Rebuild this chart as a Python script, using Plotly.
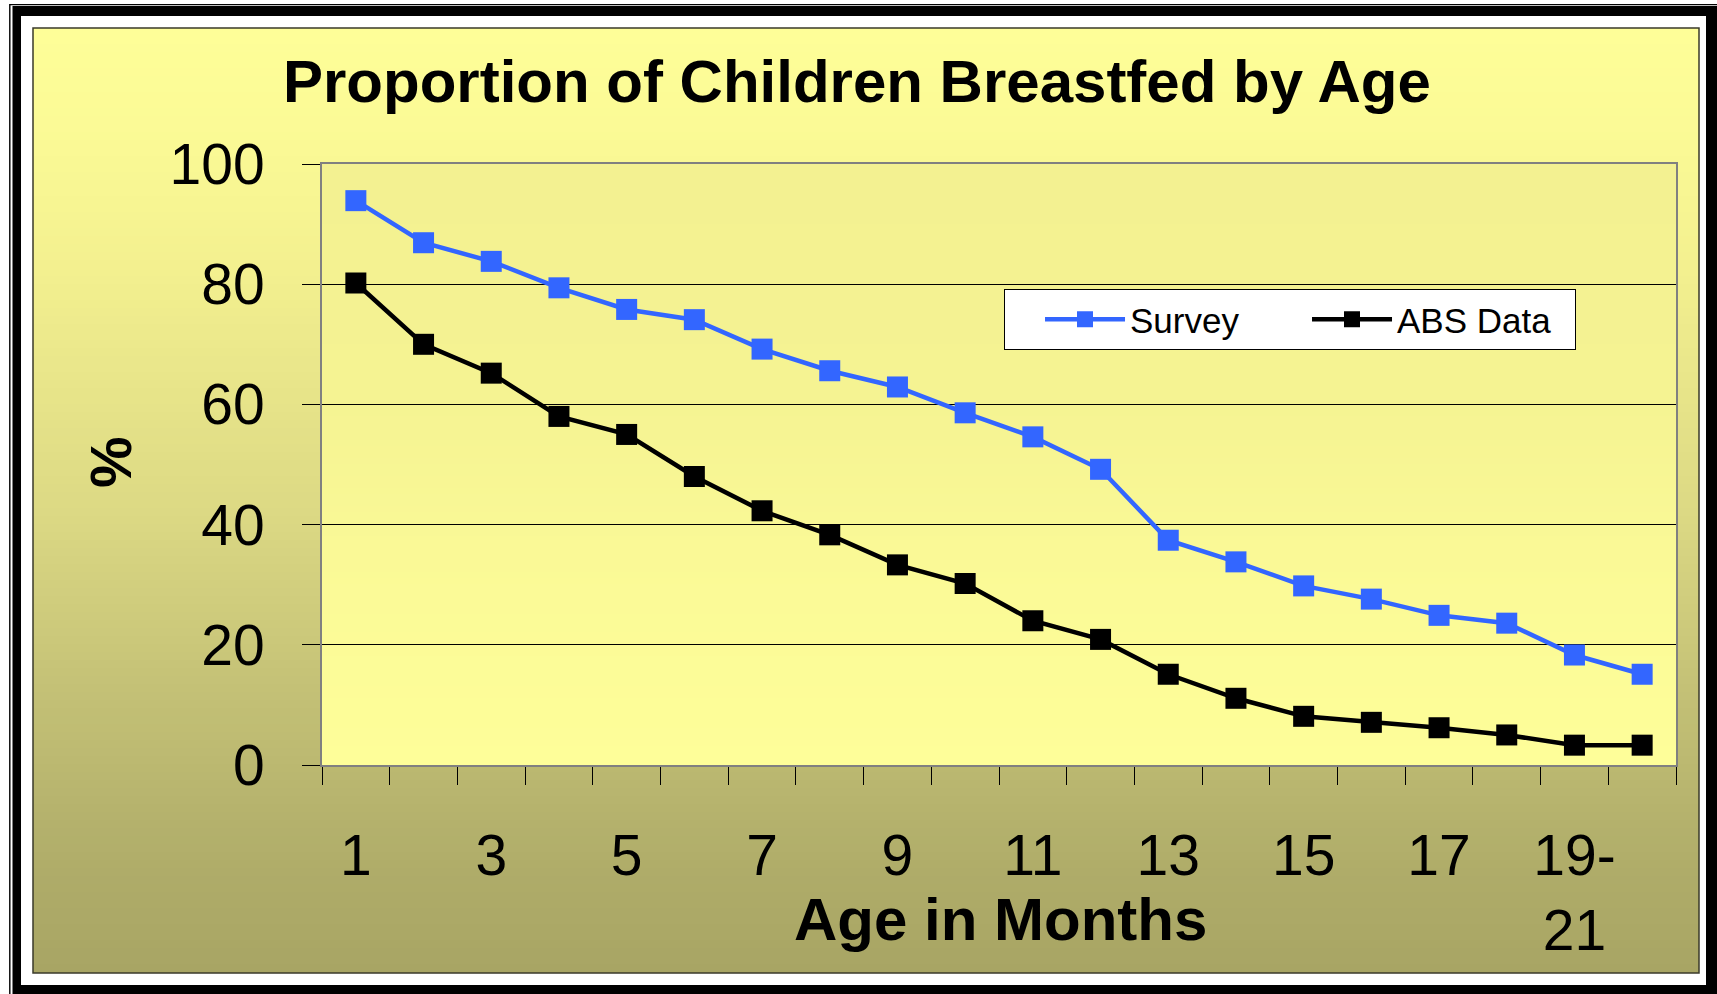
import plotly.graph_objects as go

# ---------------- data ----------------
categories = [str(i) for i in range(1, 19)] + ["19-21", "22-24"]
survey = [93.9, 86.9, 83.8, 79.4, 75.8, 74.1, 69.2, 65.6, 62.9, 58.6,
          54.6, 49.2, 37.4, 33.8, 29.8, 27.6, 24.9, 23.6, 18.3, 15.1]
abs_data = [80.2, 70.0, 65.2, 58.0, 55.0, 48.0, 42.3, 38.3, 33.3, 30.2,
            24.0, 20.9, 15.1, 11.1, 8.1, 7.1, 6.2, 5.0, 3.3, 3.3]
series_names = ["Survey", "ABS Data"]
y_ticks = [0, 20, 40, 60, 80, 100]
title_text = "Proportion of Children Breastfed by Age"
x_title = "Age in Months"
y_title = "%"

# ---------------- geometry ----------------
W, H = 1717, 994
L, R, T, B = 322, 1676, 164, 765
PW, PH = R - L, B - T

def X(px):
    return (px - L) / PW

def Y(py):
    return 1 - (py - T) / PH

FONT = "Arial, Liberation Sans, Helvetica, sans-serif"

xpos = list(range(1, len(categories) + 1))
tick_pos = xpos[::2]
tick_text = [categories[i - 1].replace("-", "-<br>") for i in tick_pos]
boundaries = [i + 0.5 for i in range(0, len(categories) + 1)]

fig = go.Figure()
fig.add_trace(go.Scatter(
    x=xpos, y=survey, name=series_names[0], mode="lines+markers",
    line=dict(color="#3366FF", width=4.5),
    marker=dict(symbol="square", size=21, color="#3366FF"),
))
fig.add_trace(go.Scatter(
    x=xpos, y=abs_data, name=series_names[1], mode="lines+markers",
    line=dict(color="#000000", width=4.5),
    marker=dict(symbol="square", size=21, color="#000000"),
))

shapes = []

def rect(x0, y0, x1, y1, fill=None, line_color=None, lw=0):
    d = dict(type="rect", xref="paper", yref="paper", layer="below",
             x0=X(x0), x1=X(x1), y0=Y(y1), y1=Y(y0))
    d["fillcolor"] = fill if fill else "rgba(0,0,0,0)"
    d["line"] = dict(color=line_color if line_color else "rgba(0,0,0,0)", width=lw)
    return d

# outer frame
shapes.append(rect(12.5, 6, 1740, 1020, fill="#000000"))
shapes.append(rect(21, 16, 1706, 985, fill="#FFFFFF"))
shapes.append(rect(9.8, 4.6, 1740, 1020, line_color="#000000", lw=1.4))

def interp(stops, y):
    for (ya, ca), (yb, cb) in zip(stops[:-1], stops[1:]):
        if ya <= y <= yb:
            t = (y - ya) / (yb - ya)
            return tuple(round(a + (b - a) * t) for a, b in zip(ca, cb))
    return stops[-1][1] if y > stops[-1][0] else stops[0][1]

def gradient(x0, y0, x1, y1, stops, step=8):
    y = y0
    while y < y1:
        ye = min(y + step, y1)
        c = interp(stops, (y + ye) / 2)
        shapes.append(rect(x0, y, x1, min(ye + 1, y1), fill="rgb(%d,%d,%d)" % c))
        y = ye

panel_stops = [(28, (254, 254, 152)), (150, (250, 249, 149)), (270, (243, 240, 143)),
               (510, (220, 217, 132)), (690, (196, 193, 118)), (870, (175, 172, 105)),
               (973, (168, 165, 100))]
gradient(33, 28, 1699, 973, panel_stops)
shapes.append(rect(33, 28, 1699, 973, line_color="#3a3a2a", lw=1.5))

plot_stops = [(164, (243, 241, 145)), (400, (245, 243, 146)), (550, (250, 249, 150)),
              (765, (254, 254, 153))]
gradient(L, T, R, B, plot_stops, step=6)

annotations = [
    dict(text="<b>%s</b>" % title_text, xref="paper", yref="paper",
         x=X(857), y=Y(81.5), xanchor="center", yanchor="middle", showarrow=False,
         font=dict(family=FONT, size=60, color="#000000")),
    dict(text="<b>%s</b>" % x_title, xref="paper", yref="paper",
         x=X(1000), y=Y(919), xanchor="center", yanchor="middle", showarrow=False,
         font=dict(family=FONT, size=60, color="#000000")),
    dict(text="<b>%s</b>" % y_title, xref="paper", yref="paper", textangle=-90,
         x=X(110), y=Y(462), xanchor="center", yanchor="middle", showarrow=False,
         font=dict(family=FONT, size=58, color="#000000")),
]

fig.update_layout(
    width=W, height=H,
    margin=dict(l=L, r=W - R, t=T, b=H - B, pad=0),
    paper_bgcolor="#FFFFFF",
    plot_bgcolor="rgba(0,0,0,0)",
    shapes=shapes,
    annotations=annotations,
    font=dict(family=FONT, color="#000000"),
    showlegend=True,
    legend=dict(
        orientation="h", x=X(1004), y=Y(289), xanchor="left", yanchor="top",
        bgcolor="#FFFFFF", bordercolor="#000000", borderwidth=1,
        font=dict(family=FONT, size=35, color="#000000"),
        itemwidth=80, entrywidth=172, tracegroupgap=0,
        title=dict(text="&nbsp;&nbsp;&nbsp;", side="left",
                   font=dict(family=FONT, size=30)),
    ),
    xaxis=dict(
        range=[0.5, len(categories) + 0.5],
        tickmode="array", tickvals=tick_pos, ticktext=tick_text,
        ticks="", showgrid=False, zeroline=False,
        showline=True, linecolor="#808080", linewidth=2, mirror=True,
        tickfont=dict(family=FONT, size=57, color="#000000"),
        ticklabelstandoff=40,
        minor=dict(tickmode="array", tickvals=boundaries, ticks="outside",
                   ticklen=18, tickcolor="#000000", tickwidth=1, showgrid=False),
    ),
    yaxis=dict(
        range=[0, 100], tickmode="array", tickvals=y_ticks,
        ticks="outside", ticklen=18, tickcolor="#000000", tickwidth=1,
        showgrid=True, gridcolor="#000000", gridwidth=1, zeroline=False,
        showline=True, linecolor="#808080", linewidth=2, mirror=True,
        tickfont=dict(family=FONT, size=57, color="#000000"),
        ticklabelstandoff=26,
    ),
)

fig.write_html(
    "out.html",
    config={"displayModeBar": False},
    post_script="document.body.style.margin='0';document.body.style.overflow='hidden';",
)
